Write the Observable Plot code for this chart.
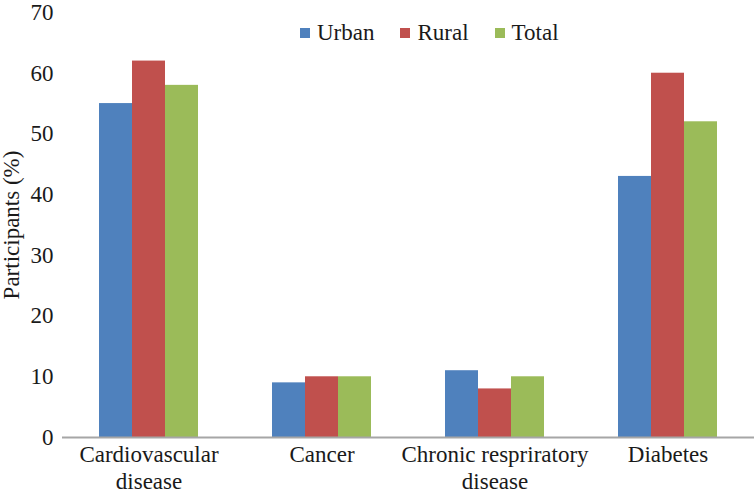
<!DOCTYPE html>
<html><head><meta charset="utf-8">
<script src="https://cdn.jsdelivr.net/npm/d3@7"></script>
<script src="https://cdn.jsdelivr.net/npm/@observablehq/plot@0.6"></script>
<style>
body{margin:0;background:#fff;}
#wrap{position:relative;width:755px;height:493px;}
#legend{position:absolute;left:300px;top:21px;display:flex;align-items:center;font-size:23px;color:#1a1a1a;line-height:1;}
#legend .item{display:flex;align-items:center;margin-right:26px;}
#legend .sw{width:10px;height:10px;margin-right:7px;}
</style></head>
<body><div id="wrap"><div id="chart"></div><div id="legend"></div></div>
<script>
const categories = ["Cardiovascular disease","Cancer","Chronic respriratory disease","Diabetes"];
const categoryLabels = ["Cardiovascular\ndisease","Cancer","Chronic respriratory\ndisease","Diabetes"];
const series = ["Urban","Rural","Total"];
const urban = [55,9,11,43];
const rural = [62,10,8,60];
const total = [58,10,10,52];
const colors = ["#4F81BD","#C0504D","#9BBB59"];
const yTicks = [0,10,20,30,40,50,60,70];
const yLabel = "Participants (%)";

const seriesValues = [urban, rural, total];
const data = categories.flatMap((c,i)=>series.map((s,j)=>({category:c, series:s, value:seriesValues[j][i]})));

const chart = Plot.plot({
  width:755, height:493, marginLeft:62, marginRight:1, marginTop:12, marginBottom:56,
  style:"font-size:23px;color:#1a1a1a;background:#fff;font-family:Liberation Serif;",
  fx:{domain:categories, padding:0, label:null, axis:null},
  x:{domain:series, paddingInner:0, paddingOuter:1.095, axis:null},
  y:{domain:[0,70], axis:null},
  color:{domain:series, range:colors},
  marks:[
    Plot.barY(data,{fx:"category", x:"series", y:"value", fill:"series"}),
    Plot.ruleY([0],{stroke:"#a6a6a6", strokeWidth:2}),
    Plot.axisY({ticks:yTicks, tickSize:0, tickPadding:9, line:true, stroke:"#a6a6a6", strokeWidth:2, fill:"#1a1a1a", label:yLabel, labelAnchor:"center", labelOffset:60, labelArrow:false}),
    Plot.axisFx({tickSize:0, tickPadding:5, tickFormat:d=>categoryLabels[categories.indexOf(d)], label:null, lineHeight:1.17, anchor:"bottom", fill:"#1a1a1a"})
  ]
});
document.getElementById("chart").appendChild(chart);

const legend = document.getElementById("legend");
legend.setAttribute("style", legend.getAttribute("style")+";font-family:Liberation Serif");
series.forEach((s,i)=>{
  const item = document.createElement("div"); item.className="item";
  const sw = document.createElement("span"); sw.className="sw"; sw.style.background=colors[i];
  const t = document.createElement("span"); t.textContent=s;
  item.appendChild(sw); item.appendChild(t); legend.appendChild(item);
});
</script></body></html>
